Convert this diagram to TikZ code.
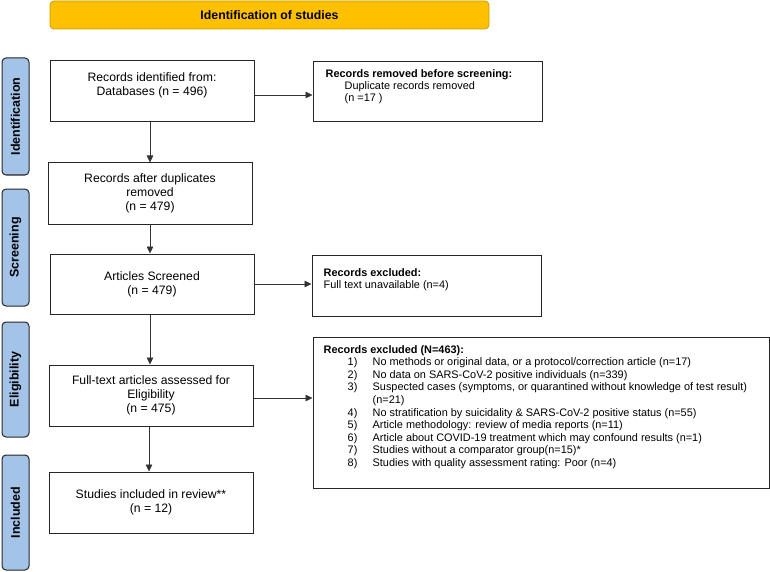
\documentclass[tikz,border=0pt]{standalone}
\usepackage{fontspec}
\setmainfont{Liberation Sans}
\usetikzlibrary{arrows.meta}
\definecolor{banner}{HTML}{FFC000}
\definecolor{bannerline}{HTML}{C8A000}
\definecolor{sidefill}{HTML}{A3C3E8}
\newcommand{\itm}[2]{\hspace*{24pt}\makebox[25pt][l]{#1}#2}
\begin{document}
\begin{tikzpicture}[x=1pt,y=-1pt,
  box/.style={draw=black!85,line width=1pt,fill=white,minimum width=204pt,inner sep=0pt,align=center,font=\fontsize{12.2}{14.3}\selectfont},
  sidebox/.style={draw=black!85,line width=1pt,fill=white,inner sep=0pt},
  side/.style={draw=black!85,line width=1pt,fill=sidefill,rounded corners=4pt,minimum width=27pt,inner sep=0pt},
  sidelabel/.style={rotate=90,font=\bfseries\fontsize{12.5}{14}\selectfont},
  sidetext/.style={anchor=north west,inner sep=0pt,align=left,font=\fontsize{10.9}{12}\selectfont},
  arr/.style={-{Triangle[length=7pt,width=6.5pt]},line width=0.6pt,draw=black!80}]
\useasboundingbox (0,0) rectangle (770,572);
% banner
\node[draw=bannerline,line width=0.8pt,fill=banner,rounded corners=4pt,minimum width=439pt,minimum height=28pt,inner sep=0pt,font=\bfseries\fontsize{12.3}{14}\selectfont] (banner) at (269.5,15) {Identification of studies};
% side bars
\node[side,minimum height=117pt] (sid) at (15.5,116.5) {}; \node[sidelabel] (lid) at (sid) {Identification};
\node[side,minimum height=117pt] (ssc) at (15.5,247.5) {}; \node[sidelabel] (lsc) at (ssc) {Screening};
\node[side,minimum height=115pt] (sel) at (15.5,379.5) {}; \node[sidelabel] (lel) at (sel) {Eligibility};
\node[side,minimum height=115pt] (sin) at (15.5,512.5) {}; \node[sidelabel] (lin) at (sin) {Included};
% main boxes
\node[box,minimum height=61pt] (b1) at (152,91.5) {};
\node[align=center,font=\fontsize{12.2}{14.3}\selectfont] (t1) at (152,85) {Records identified from:\\Databases (n = 496)};
\node[box,minimum height=61pt] (b2) at (150,193.5) {Records after duplicates\\removed\\(n = 479)};
\node[box,minimum height=60pt] (b3) at (152,284) {Articles Screened\\(n = 479)};
\node[box,minimum height=61pt] (b4) at (151,395.5) {Full-text articles assessed for\\Eligibility\\(n = 475)};
\node[box,minimum height=61pt] (b5) at (151,502.5) {Studies included in review**\\(n = 12)};
% side boxes
\node[sidebox,minimum width=229pt,minimum height=60pt] (rm) at (427.5,92) {};
\node[sidetext] (r1) at ([xshift=13pt,yshift=-8pt]rm.north west) {\textbf{Records removed before screening:}\\\hspace*{19pt}Duplicate records removed\\\hspace*{19pt}(n =17 )};
\node[sidebox,minimum width=229pt,minimum height=61pt] (ex1) at (426.5,285.5) {};
\node[sidetext] (r2) at ([xshift=12pt,yshift=-14pt]ex1.north west) {\textbf{Records excluded:}\\Full text unavailable (n=4)};
\node[sidebox,minimum width=456pt,minimum height=151pt] (ex2) at (541,412.5) {};
\node[sidetext,font=\fontsize{10.9}{12.6}\selectfont] (r3) at ([xshift=11pt,yshift=-8.5pt]ex2.north west) {\textbf{Records excluded (N=463):}\\
\itm{1)}{No methods or original data, or a protocol/correction article (n=17)}\\
\itm{2)}{No data on SARS-CoV-2 positive individuals (n=339)}\\
\itm{3)}{Suspected cases (symptoms, or quarantined without knowledge of test result)}\\
\itm{}{(n=21)}\\
\itm{4)}{No stratification by suicidality \& SARS-CoV-2 positive status (n=55)}\\
\itm{5)}{Article methodology: review of media reports (n=11)}\\
\itm{6)}{Article about COVID-19 treatment which may confound results (n=1)}\\
\itm{7)}{Studies without a comparator group(n=15)*}\\
\itm{8)}{Studies with quality assessment rating: Poor (n=4)}};
% arrows
\draw[arr] ([yshift=-3.5pt]b1.east) -- ([yshift=-3.5pt]b1.east -| rm.west);
\draw[arr] (b3.east) -- (b3.east -| ex1.west);
\draw[arr] ([yshift=-2.5pt]b4.east) -- ([yshift=-2.5pt]b4.east -| ex2.west);
\draw[arr] (b2.north |- b1.south) -- (b2.north);
\draw[arr] (b2.south) -- (b2.south |- b3.north);
\draw[arr] (b2.south |- b3.south) -- (b2.south |- b4.north);
\draw[arr] ([xshift=-2pt]b4.south) -- ([xshift=-2pt]b5.north);
\end{tikzpicture}
\end{document}
